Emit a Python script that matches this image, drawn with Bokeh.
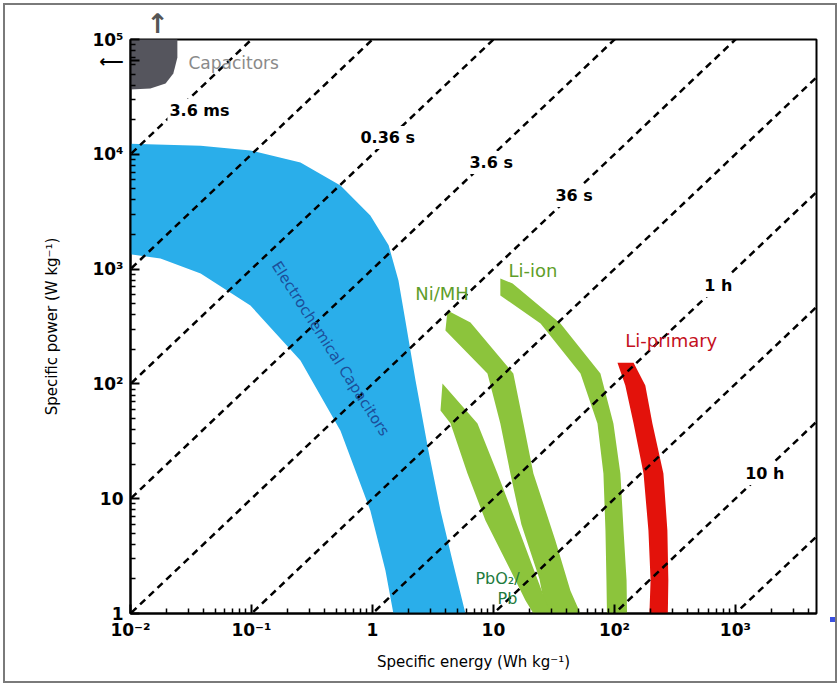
from bokeh.plotting import figure
from bokeh.models import Range1d, FixedTicker, CustomJSTickFormatter, Label, LogAxis
from bokeh.embed import file_html
from bokeh.resources import INLINE

# ---------------- data (specific energy Wh/kg, specific power W/kg) ----------------
x_ticks = [1e-2, 1e-1, 1, 10, 1e2, 1e3]
y_ticks = [1, 10, 1e2, 1e3, 1e4, 1e5]

# constant discharge-time lines, hours (P = E / t)
times_h = [1e-6, 1e-5, 1e-4, 1e-3, 1e-2, 1e-1, 1, 10, 100, 1000]

cap_E = [0.009, 0.0244, 0.0244, 0.0226, 0.0195, 0.0146, 0.009]
cap_P = [1.2e5, 1.2e5, 69700, 50600, 41400, 37400, 36600]
cap_arrow_E = 0.0167      # upward arrow position
cap_arrow_P = 65600       # leftward arrow position

ec_E = [0.009, 0.038, 0.098, 0.254, 0.544, 0.96, 1.36, 1.64, 1.87, 2.27, 2.90, 3.65, 4.58, 5.87, 6.2,
        1.55, 1.49, 1.28, 0.96, 0.544, 0.254, 0.098, 0.038, 0.0177, 0.009]
ec_P = [12400, 11900, 10800, 8500, 5350, 2930, 1610, 796, 356, 107, 26.3, 7.9, 2.9, 1.0, 0.58,
        0.58, 1.0, 2.37, 7.9, 39, 160, 482, 916, 1236, 1370]

nimh_E = [4.17, 6.46, 14.6, 17.7, 21.4, 32.5, 43.3, 52.4, 55, 30, 24, 17, 13.8, 11.4, 8.92, 4.01]
nimh_P = [436, 343, 123, 45.2, 16.6, 4.33, 1.58, 1.0, 0.58, 0.58, 2.0, 6.0, 16.6, 45.2, 123, 292]

pb_E = [3.79, 7.38, 10.8, 15.2, 20.2, 26.9, 29.6, 31, 22.6, 21.4, 18.4, 12.6, 8.59, 6.10, 4.42, 3.65]
pb_P = [101, 45.2, 16.6, 6.46, 2.90, 1.30, 1.0, 0.58, 0.58, 1.0, 1.30, 2.90, 6.46, 16.6, 45.2, 58.7]

liion_E = [11.4, 14.4, 35.8, 76.6, 98.1, 112, 119, 126, 128, 87.5, 85.9, 84.3, 81.1, 72.4, 52.4, 24.5, 11.4]
liion_P = [828, 750, 336, 123, 45.2, 16.6, 5.28, 1.94, 0.58, 0.58, 1.94, 5.28, 16.6, 45.2, 123, 336, 589]

lip_E = [144, 180, 206, 254, 274, 279, 274, 191, 199, 191, 174, 144, 123, 106]
lip_P = [153, 96.9, 45.2, 16.6, 5.28, 1.94, 0.58, 0.58, 1.94, 5.28, 16.6, 45.2, 96.9, 153]

time_labels = ["3.6 ms", "0.36 s", "3.6 s", "36 s", "1 h", "10 h"]
time_lab_E = [0.0202, 0.766, 6.10, 31.3, 533, 1160]
time_lab_P = [24100, 14000, 8490, 4380, 719, 16.6]

FONT = "DejaVu Sans"

p = figure(width=840, height=686, x_axis_type="log", y_axis_type="log",
           x_range=Range1d(0.01, 4680), y_range=Range1d(1, 1e5),
           output_backend="svg", toolbar_location=None,
           min_border_left=130, min_border_right=24, min_border_top=39, min_border_bottom=73,
           background_fill_color="white", border_fill_color=None)
# page frame around the picture and the small blue mark at its right edge
p.styles = {"background-color": "white",
            "box-shadow": "inset 0 0 0 3px white, inset 0 0 0 5px #7a7a7a",
            "background-image": "linear-gradient(#3a50e0, #3a50e0)",
            "background-size": "10px 5px", "background-position": "830px 617px",
            "background-repeat": "no-repeat"}
p.grid.visible = False
p.outline_line_color = "black"
p.outline_line_width = 2

minor = [m * 10.0 ** k for k in range(-2, 5) for m in range(2, 10)]
p.xaxis.ticker = FixedTicker(ticks=x_ticks, minor_ticks=minor)
p.yaxis.ticker = FixedTicker(ticks=y_ticks + [cap_arrow_P], minor_ticks=minor)
fmt_code = """
const sup = {'-':'\u207b','0':'\u2070','1':'\u00b9','2':'\u00b2','3':'\u00b3','4':'\u2074','5':'\u2075'};
const lg = Math.log10(tick);
const e = Math.round(lg);
if (Math.abs(lg - e) > 0.01) return '\u27f5';
if (e == 0) return '1';
if (e == 1) return '10';
return '10' + String(e).split('').map(c => sup[c]).join('');
"""
p.xaxis.formatter = CustomJSTickFormatter(code=fmt_code)
p.yaxis.formatter = CustomJSTickFormatter(code=fmt_code)
for ax in (p.xaxis, p.yaxis):
    ax.axis_line_color = "black"
    ax.axis_line_width = 2
    ax.major_tick_in = 9
    ax.major_tick_out = 0
    ax.minor_tick_in = 5
    ax.minor_tick_out = 0
    ax.major_tick_line_width = 2
    ax.minor_tick_line_width = 1.5
    ax.major_tick_line_color = "black"
    ax.minor_tick_line_color = "black"
    ax.major_label_text_font = FONT
    ax.major_label_text_font_size = "17px"
    ax.major_label_text_font_style = "bold"
    ax.major_label_text_color = "black"
    ax.axis_label_text_font = FONT
    ax.axis_label_text_font_size = "15px"
    ax.axis_label_text_font_style = "normal"
    ax.axis_label_text_color = "black"
p.xaxis.axis_label = "Specific energy (Wh kg\u207b\u00b9)"
p.yaxis.axis_label = "Specific power (W kg\u207b\u00b9)"
p.xaxis.major_label_standoff = 6
p.yaxis.major_label_standoff = 7
p.xaxis.axis_label_standoff = 10
p.yaxis.axis_label_standoff = 28

# upward arrow above the capacitor region (drawn as a tick label of a bare top axis)
top = LogAxis(ticker=FixedTicker(ticks=[cap_arrow_E], minor_ticks=[]),
              formatter=CustomJSTickFormatter(code="return '\u2191';"),
              axis_line_color=None, major_tick_line_color=None, minor_tick_line_color=None,
              major_label_text_font=FONT, major_label_text_font_size="27px",
              major_label_text_font_style="bold", major_label_text_color="#555555",
              major_label_standoff=-5)
p.add_layout(top, "above")

BLUE = "#2aaeea"
GREEN = "#8cc43c"
RED = "#e3120b"
p.patch(ec_E, ec_P, fill_color=BLUE, line_color=None)
p.patch(nimh_E, nimh_P, fill_color=GREEN, line_color=None)
p.patch(pb_E, pb_P, fill_color=GREEN, line_color=None)
p.patch(liion_E, liion_P, fill_color=GREEN, line_color=None)
p.patch(lip_E, lip_P, fill_color=RED, line_color=None)
p.patch(cap_E, cap_P, fill_color="#55555d", line_color=None)

for t in times_h:
    e = [1e-3, 1e5]
    p.line(e, [v / t for v in e], line_color="black", line_width=2.5, line_dash="7 5")


def lab(x, y, s, color, size, style="normal", align="left", angle=0.0, bg=None):
    p.add_layout(Label(x=x, y=y, text=s, text_color=color, text_font=FONT, text_font_size=size,
                       text_font_style=style, text_align=align, text_baseline="middle",
                       angle=angle, background_fill_color=bg, padding=2 if bg else 0))


for s, xe, yp in zip(time_labels, time_lab_E, time_lab_P):
    lab(xe, yp, s, "black", "16px", "bold", bg="white")

lab(0.0301, 61800, "Capacitors", "#8a8a8a", "17px")
lab(2.26, 612, "Ni/MH", "#5f9e2a", "18px")
lab(13.3, 973, "Li-ion", "#5f9e2a", "18px")
lab(123, 239, "Li-primary", "#c41020", "18px")
lab(7.10, 2.02, "PbO\u2082/", "#1e7b3e", "16px")
lab(10.8, 1.35, "Pb", "#1e7b3e", "16px")
lab(0.45, 203, "Electrochemical Capacitors", "#1c4f9a", "15px", align="center", angle=-1.0)

open("out.html", "w").write(file_html(p, INLINE))
